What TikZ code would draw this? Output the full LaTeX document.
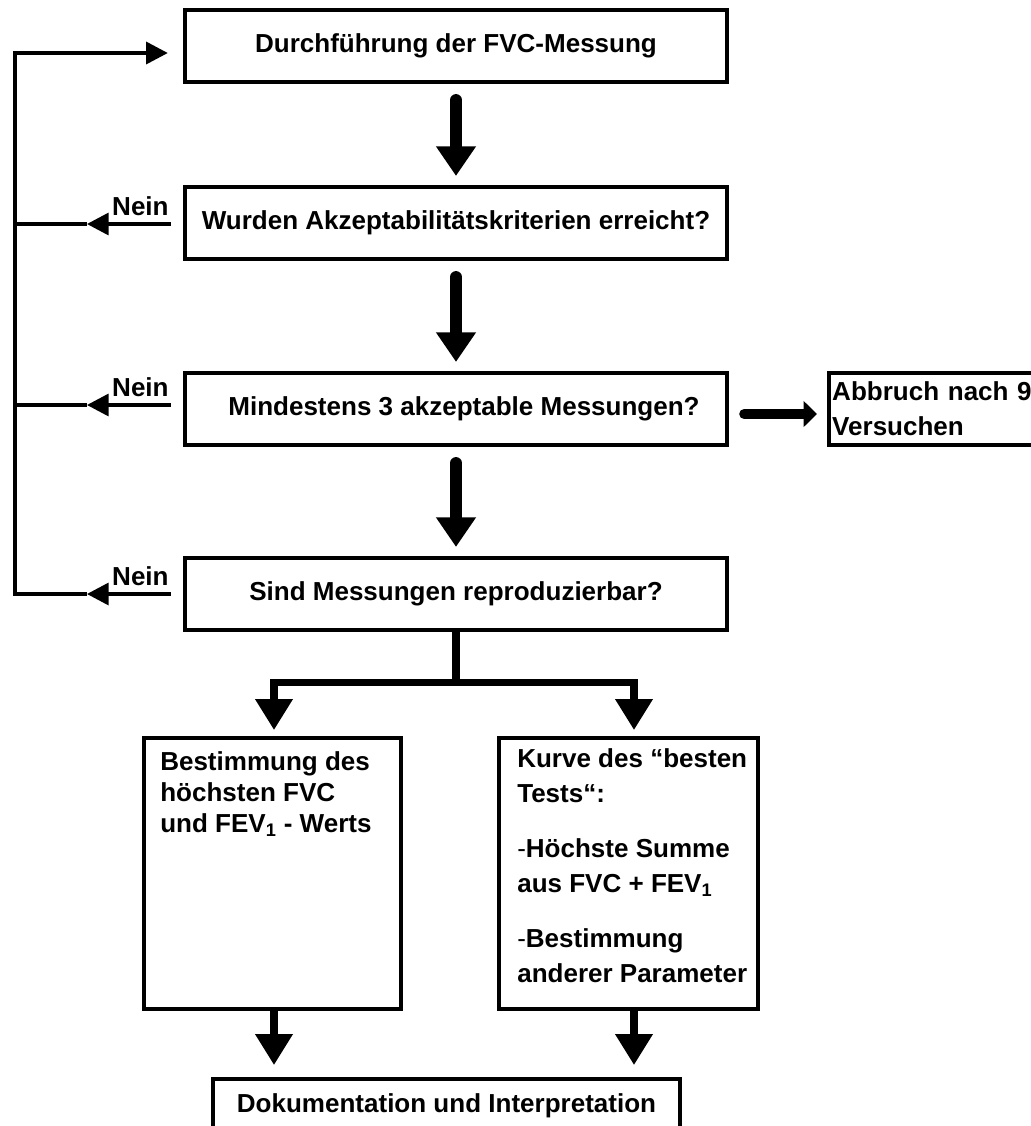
\documentclass[tikz,border=0pt]{standalone}
\usepackage{fontspec}
\setmainfont{Liberation Sans}
\usetikzlibrary{arrows.meta,positioning,calc}

\begin{document}
\begin{tikzpicture}[
  x=0.025cm, y=-0.025cm,
  font=\fontsize{18.5pt}{22pt}\selectfont\bfseries,
  box/.style={draw, line width=2.9pt, inner sep=0pt, minimum width=13.55cm, minimum height=1.8cm},
  tallbox/.style={draw, line width=2.9pt, inner sep=0pt, minimum height=6.775cm, anchor=north west},
  boxtext/.style={inner sep=0pt, align=left, anchor=north west},
  widelines/.style={font=\fontsize{18.5pt}{25pt}\selectfont\bfseries},
  downarrow/.style={line width=8.5pt, line cap=round, -{Triangle[width=27pt,length=21pt]}, shorten <=0.4cm, shorten >=0.225cm},
  sidearrow/.style={line width=7pt, line cap=round, -{Triangle[width=18pt,length=9.5pt]}, shorten <=0.375cm, shorten >=0.25cm},
  branch/.style={line width=5pt},
  brancharrow/.style={line width=5pt, -{Triangle[width=25.6pt,length=22pt]}},
  loopline/.style={line width=2.85pt},
  looparrow/.style={line width=2.85pt, -{Triangle[width=15.5pt,length=15.5pt]}},
  neinlabel/.style={inner sep=0pt, anchor=base east},
]
% Page: 1031 x 1126 px, one px = 0.025cm
\useasboundingbox (0,0) rectangle (1031,1126);

% Main column
\node[box] (mess) at (456,46) {Durchführung der FVC-Messung};
\node[box] (akzept) at (456,223) {Wurden Akzeptabilitätskriterien erreicht?};
\node[box] (drei) at (456,409) {\hspace*{0.4cm}Mindestens 3 akzeptable Messungen?};
\node[box] (repro) at (456,594) {Sind Messungen reproduzierbar?};
\node[box, widelines, minimum width=0pt, text width=5.3cm, inner xsep=0.08cm, align=left, anchor=west] (abbruch) at (827,409) {Abbruch nach 9\\Versuchen};

\foreach \a/\b in {mess/akzept, akzept/drei, drei/repro}
  \draw[downarrow] (\a) -- (\b);
\draw[sidearrow] ([yshift=-0.125cm]drei.east) -- ([yshift=-0.125cm]abbruch.west);

% Lower boxes
\node[tallbox, minimum width=6.425cm] (bestimm) at (142,736) {};
\node[boxtext] (bestimmtext) at (160,751) {Bestimmung des\\höchsten FVC\\und FEV\textsubscript{1} - Werts};
\node[tallbox, minimum width=6.475cm] (kurve) at (497,736) {};
\node[boxtext, widelines] (kurvetext) at (517,748) {Kurve des “besten\\Tests“:\\[14pt]{\mdseries-}Höchste Summe\\aus FVC + FEV\textsubscript{1}\\[14pt]{\mdseries-}Bestimmung\\anderer Parameter};
\node[box, minimum width=11.675cm, minimum height=1.35cm, anchor=north] (doku) at (446.5,1077) {Dokumentation und Interpretation};

% Split below the last question
\coordinate (split) at ($(repro.south)+(0,50)$);
\coordinate (lsplit) at ($(split)+(-182,0)$);
\coordinate (rsplit) at ($(split)+(178,0)$);
\draw[branch] (repro.south) -- (split);
\draw[brancharrow, shorten >=0.15cm] (split) -- (lsplit) -- (lsplit |- bestimm.north);
\draw[brancharrow, shorten >=0.15cm] (split) -- (rsplit) -- (rsplit |- kurve.north);
\draw[brancharrow, shorten >=0.3cm] (lsplit |- bestimm.south) -- (lsplit |- doku.north);
\draw[brancharrow, shorten >=0.3cm] (rsplit |- kurve.south) -- (rsplit |- doku.north);

% Feedback loop on the left
\coordinate (ltop) at (15,53);
\coordinate (lbot) at (15,594);
\coordinate (ntip1) at ($(akzept.west)+(-96,1)$);
\coordinate (ntip2) at ($(drei.west)+(-96,-4)$);
\coordinate (ntip3) at ($(repro.west)+(-96,0)$);
\draw[looparrow, shorten <=0.3cm] (ntip1 -| akzept.west) -- (ntip1);
\draw[looparrow, shorten <=0.3cm] (ntip2 -| drei.west) -- (ntip2);
\draw[looparrow, shorten <=0.3cm] (ntip3 -| repro.west) -- (ntip3);
\draw[loopline] (ntip1) -- (ntip1 -| ltop);
\draw[loopline] (ntip2) -- (ntip2 -| ltop);
\draw[looparrow, shorten >=0.375cm] (ntip3) -- (lbot) -- (ltop) -- (ltop -| mess.west);
\foreach \i in {1,2,3}
  \node[neinlabel] (nein\i) at ($(ntip\i)+(82,-9)$) {Nein};
\end{tikzpicture}
\end{document}
